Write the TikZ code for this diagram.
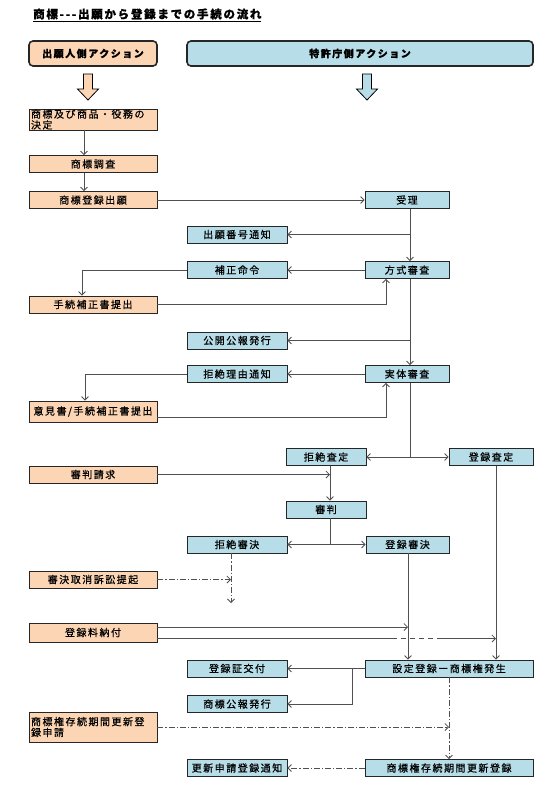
\documentclass[tikz,border=0pt]{standalone}
\usepackage{fontspec}
\usepackage{xcolor}
\usepackage{tikz}
\usetikzlibrary{arrows.meta}
\usetikzlibrary{positioning}
\newfontfamily\jpfont{Noto Sans CJK JP}[LetterSpace=15, FakeBold=0.6]
\definecolor{peach}{HTML}{FCD5B4}
\definecolor{aqua}{HTML}{B7DEE8}
\definecolor{linegray}{HTML}{505050}

\begin{document}
\begin{tikzpicture}[x=1pt, y=-1pt,
  every node/.style={font=\jpfont\fontsize{10}{10.8}\selectfont, inner sep=1pt},
  apl/.style={draw=black!85, line width=0.8pt, fill=peach, minimum width=128pt, minimum height=17pt},
  jpo/.style={draw=black!85, line width=0.8pt, fill=aqua, minimum width=100pt, minimum height=17pt},
  hdr/.style={draw=black!85, line width=1.6pt, rounded corners=4pt, minimum height=25pt,
    font=\jpfont\bfseries\fontsize{10}{11}\selectfont},
  flow/.style={draw=linegray, line width=0.8pt, -{Straight Barb[length=3.5pt,width=7pt]}},
  both/.style={draw=linegray, line width=0.8pt,
    {Straight Barb[length=3.5pt,width=7pt]}-{Straight Barb[length=3.5pt,width=7pt]}},
  wire/.style={draw=linegray, line width=0.8pt},
  chain/.style={flow, dash pattern=on 6pt off 2pt on 1.2pt off 2pt}
]
\useasboundingbox (0,0) rectangle (554,797);

\node (title) [anchor=west, font=\jpfont\bfseries\fontsize{11.5}{13}\selectfont] at (32,15)
  {\underline{商標-{}-{}-出願から登録までの手続の流れ}};
\node (hl) [hdr, fill=peach, minimum width=128pt] at (93,53.5) {出願人側アクション};
\node (hr) [hdr, fill=aqua, minimum width=346pt] at (360,53.5) {特許庁側アクション};

\draw[fill=peach, line width=0.8pt] (83.5,74) -- (92.5,74) -- (92.5,89) -- (98.5,89)
  -- (88,100) -- (77.5,89) -- (83.5,89) -- cycle;
\draw[fill=aqua, line width=0.8pt] (362.5,74) -- (371.5,74) -- (371.5,89) -- (377.5,89)
  -- (367,100) -- (356.5,89) -- (362.5,89) -- cycle;

\node (dec) [apl, minimum height=21pt, text width=124pt, align=left, inner xsep=2pt, inner ysep=0.5pt]
  at (93,119.5) {商標及び商品・役務の\\決定};
\node (srch) [apl] at (93,164) {商標調査};
\node (appl) [apl] at (93,200) {商標登録出願};
\node (amend) [apl] at (93,304.5) {手続補正書提出};
\node (opin) [apl, minimum height=21pt] at (93,411.5) {意見書/手続補正書提出};
\node (trial) [apl] at (93,474.5) {審判請求};
\node (suit) [apl] at (93,579.5) {審決取消訴訟提起};
\node (fee) [apl, minimum height=19pt] at (93,632.5) {登録料納付};
\node (renew) [apl, minimum height=30pt, text width=124pt, align=left, inner xsep=2pt, inner ysep=0.5pt]
  at (93,727) {商標権存続期間更新登\\録申請};

\node (num) [jpo] at (237,234.5) {出願番号通知};
\node (cmd) [jpo] at (237,270) {補正命令};
\node (pub) [jpo] at (237,340.5) {公開公報発行};
\node (rej) [jpo] at (237,374) {拒絶理由通知};
\node (rjd) [jpo] at (237,544.5) {拒絶審決};
\node (cert) [jpo] at (237,668.5) {登録証交付};
\node (tmpub) [jpo] at (237,704) {商標公報発行};
\node (rnote) [jpo] at (237,768) {更新申請登録通知};

\node (recv) [jpo, minimum width=84pt] at (407,200) {受理};
\node (form) [jpo, minimum width=84pt] at (407,270) {方式審査};
\node (subst) [jpo, minimum width=84pt] at (407,374) {実体審査};
\node (rdec) [jpo, minimum width=80pt] at (326,457) {拒絶査定};
\node (gra) [jpo, minimum width=84pt] at (491,457) {登録査定};
\node (trl) [jpo, minimum width=80pt] at (326,509.5) {審判};
\node (gdec) [jpo, minimum width=83pt] at (407.5,544.5) {登録審決};
\node (setr) [jpo, minimum width=168pt] at (449,668.5) {設定登録ー商標権発生};
\node (rnreg) [jpo, minimum width=168pt] at (449,768) {商標権存続期間更新登録};

\coordinate (lx) at (84,0);
\coordinate (mx) at (410,0);
\coordinate (rx) at (386,0);
\coordinate (jx) at (330,0);
\coordinate (gx) at (408,0);
\coordinate (qx) at (496,0);
\coordinate (bx) at (352,0);
\coordinate (ux) at (449,0);
\coordinate (sx) at (231,0);
\coordinate (send) at (231,603);
\coordinate (f1) at (392,638.5);
\coordinate (f2) at (442,638.5);

\draw[flow] (dec.south -| lx) -- (srch.north -| lx);
\draw[flow] (srch.south -| lx) -- (appl.north -| lx);
\draw[flow] (appl.east) -- (recv.west);
\draw[flow] (recv.south -| mx) -- (form.north -| mx);
\draw[flow] (mx |- num) -- (num.east);
\draw[flow] (form.west) -- (cmd.east);
\draw[flow] (cmd.west) -| ([xshift=-11pt]amend.north);
\draw[flow] (amend.east) -| (form.south -| rx);
\draw[flow] (form.south -| mx) -- (subst.north -| mx);
\draw[flow] (mx |- pub) -- (pub.east);
\draw[flow] (subst.west) -- (rej.east);
\draw[flow] (rej.west) -| ([xshift=-8pt]opin.north);
\draw[flow] ([yshift=-6pt]opin.east) -| (subst.south -| rx);
\draw[wire] (subst.south -| mx) -- (mx |- rdec);
\draw[both] (rdec.east) -- (gra.west);
\draw[flow] (rdec.south -| jx) -- (trl.north -| jx);
\draw[flow] (trial.east) -- (trial.east -| jx);
\draw[wire] (trl.south -| jx) -- (jx |- rjd);
\draw[both] (rjd.east) -- (gdec.west);
\draw[flow] (gdec.south -| gx) -- (setr.north -| gx);
\draw[flow] (gra.south -| qx) -- (setr.north -| qx);
\draw[chain] (rjd.south -| sx) -- (send);
\draw[chain] (suit.east) -- (suit.east -| sx);
\draw[flow] ([yshift=5.5pt]fee.east) -- ([yshift=5.5pt]fee.east -| gx);
\draw[wire] ([yshift=-6pt]fee.east) -- (f1);
\draw[wire, dash pattern=on 5pt off 4pt] (f1) -- (f2);
\draw[flow] (f2) -- (f2 -| qx);
\draw[flow] (setr.west) -- (cert.east);
\draw[flow] (bx |- setr) |- (tmpub.east);
\draw[chain] (setr.south -| ux) -- (rnreg.north -| ux);
\draw[chain] (renew.east) -- (renew.east -| ux);
\draw[chain] (rnreg.west) -- (rnote.east);
\end{tikzpicture}
\end{document}
